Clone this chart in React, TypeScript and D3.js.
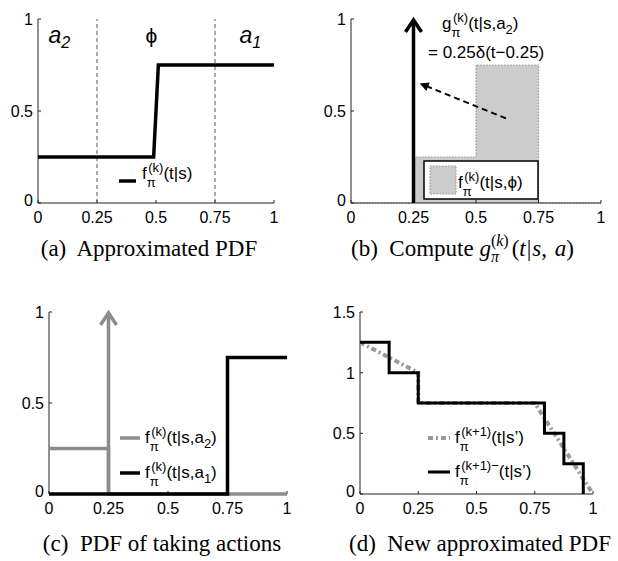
import React from "react";
import * as d3 from "d3";

// shared ticks
const xTicks = [0, 0.25, 0.5, 0.75, 1];
const xTickLabels = ["0", "0.25", "0.5", "0.75", "1"];
const yTicks = [0, 0.5, 1];
const yTickLabels = ["0", "0.5", "1"];
const yTicksD = [0, 0.5, 1, 1.5];
const yTickLabelsD = ["0", "0.5", "1", "1.5"];

// (a) approximated pdf
const pdfT = [0, 0.49, 0.51, 1];
const pdfV = [0.25, 0.25, 0.75, 0.75];
const bounds = [0.25, 0.75];
const regionT = [0.09, 0.48, 0.9];
const regionLabels = ["a", "ϕ", "a"];
const regionSubs = ["2", "", "1"];

// (b) compute g
const phiT = [0, 0.25, 0.25, 0.5, 0.5, 0.75, 0.75, 1];
const phiV = [0, 0, 0.25, 0.25, 0.75, 0.75, 0, 0];
const deltaT = 0.25;
const deltaH = 1;
const moveFrom = [0.62, 0.46];
const moveTo = [0.275, 0.65];

// (c) pdf of taking actions
const a2T = [0, 0.25, 0.25, 1];
const a2V = [0.25, 0.25, 0, 0];
const a1T = [0, 0.75, 0.75, 1];
const a1V = [0, 0, 0.75, 0.75];

// (d) new approximated pdf
const stepT = [0, 0.125, 0.125, 0.25, 0.25, 0.7917, 0.7917, 0.875, 0.875, 0.9583, 0.9583];
const stepV = [1.25, 1.25, 1, 1, 0.75, 0.75, 0.5, 0.5, 0.25, 0.25, 0];
const newT = [0, 0.25, 0.25, 0.75, 1];
const newV = [1.25, 1, 0.75, 0.75, 0];

const SANS = "'Liberation Sans', Arial, sans-serif";
const SERIF = "'Liberation Serif', 'Times New Roman', serif";
const GRAY = "#8c8c8c";
const capStyle = { whiteSpace: "pre" as const };

type Sc = d3.ScaleLinear<number, number>;

function Axes({ x, y, yt, yl }: { x: Sc; y: Sc; yt: number[]; yl: string[] }) {
  const [x0, x1] = x.range();
  const [yb, ytop] = y.range();
  return (
    <g fontFamily={SANS} fontSize={16} fill="#000">
      <line x1={x0} y1={yb} x2={x1} y2={yb} stroke="#222" />
      <line x1={x0} y1={yb} x2={x0} y2={ytop} stroke="#222" />
      {xTicks.map((t, i) => (
        <g key={"x" + i}>
          <line x1={x(t)} x2={x(t)} y1={yb} y2={yb - 3} stroke="#222" />
          <text x={x(t)} y={yb + 20} textAnchor="middle">{xTickLabels[i]}</text>
        </g>
      ))}
      {yt.map((t, i) => (
        <g key={"y" + i}>
          <line x1={x0} x2={x0 + 3} y1={y(t)} y2={y(t)} stroke="#222" />
          <text x={x0 - 5} y={y(t) + (t === 0 ? 3 : 6)} textAnchor="end">{yl[i]}</text>
        </g>
      ))}
    </g>
  );
}

// f^(k)_pi(...) style label
function FLabel({ x, y, base, sup, tail, tailSub, size = 17 }: any) {
  const small = 13;
  return (
    <text x={x} y={y} fontFamily={SANS} fontSize={size} fill="#000">
      {base}
      <tspan dy={8} fontSize={small}>π</tspan>
      <tspan dx={-7.5} dy={-15} fontSize={small}>{sup}</tspan>
      <tspan dy={7}>{tail}</tspan>
      {tailSub ? (
        <>
          <tspan dy={5} fontSize={small}>{tailSub}</tspan>
          <tspan dy={-5}>)</tspan>
        </>
      ) : null}
    </text>
  );
}

function Arrow({ x, yb, yt, color }: any) {
  return (
    <g stroke={color} strokeWidth={3.5} fill="none">
      <line x1={x} x2={x} y1={yb} y2={yt + 2} />
      <polyline points={`${x - 8},${yt + 13} ${x},${yt + 1} ${x + 8},${yt + 13}`} strokeLinejoin="miter" />
    </g>
  );
}

export default function App() {
  const xa = d3.scaleLinear().domain([0, 1]).range([38, 274]);
  const ya = d3.scaleLinear().domain([0, 1]).range([203, 19]);
  const xb = d3.scaleLinear().domain([0, 1]).range([351, 601]);
  const yb = d3.scaleLinear().domain([0, 1]).range([203, 19]);
  const xc = d3.scaleLinear().domain([0, 1]).range([49, 287]);
  const yc = d3.scaleLinear().domain([0, 1]).range([494, 312]);
  const xd = d3.scaleLinear().domain([0, 1]).range([360, 593]);
  const yd = d3.scaleLinear().domain([0, 1.5]).range([494, 312]);

  const path = (xs: Sc, ys: Sc, t: number[], v: number[]) =>
    d3.line<number>().x((d) => xs(d)).y((_, i) => ys(v[i]))(t) || "";

  const phiArea =
    d3
      .area<number>()
      .x((d) => xb(d))
      .y0(yb(0))
      .y1((_, i) => yb(phiV[i]))(phiT) || "";

  // dashed arrow geometry
  const fx = xb(moveFrom[0]), fy = yb(moveFrom[1]);
  const tx = xb(moveTo[0]), ty = yb(moveTo[1]);
  const ang = Math.atan2(ty - fy, tx - fx);
  const hl = 9, hw = 4.5;
  const bx = tx - hl * Math.cos(ang), by = ty - hl * Math.sin(ang);
  const head = `${tx},${ty} ${bx + hw * Math.sin(ang)},${by - hw * Math.cos(ang)} ${bx - hw * Math.sin(ang)},${by + hw * Math.cos(ang)}`;

  return (
    <svg width={618} height={561} style={{ position: "absolute", left: 0, top: 0, background: "#fff" }}>
      {/* (a) */}
      <Axes x={xa} y={ya} yt={yTicks} yl={yTickLabels} />
      {bounds.map((b, i) => (
        <line key={i} x1={xa(b)} x2={xa(b)} y1={ya(0)} y2={ya(1)} stroke="#555" strokeDasharray="4,3" />
      ))}
      <path d={path(xa, ya, pdfT, pdfV)} fill="none" stroke="#000" strokeWidth={3.5} />
      {regionT.map((t, i) => (
        <text
          key={i}
          x={xa(t)}
          y={ya(0.87)}
          textAnchor="middle"
          fontFamily={SANS}
          fontSize={regionSubs[i] ? 23 : 21}
          fontStyle={regionSubs[i] ? "italic" : "normal"}
        >
          {regionLabels[i]}
          {regionSubs[i] ? <tspan dy={5} fontSize={16}>{regionSubs[i]}</tspan> : null}
        </text>
      ))}
      <line x1={119} x2={136} y1={181} y2={181} stroke="#000" strokeWidth={3.5} />
      <FLabel x={142} y={179} base="f" sup="(k)" tail="(t|s)" />
      <text x={149} y={256} textAnchor="middle" fontFamily={SERIF} fontSize={23} style={capStyle}>
        {"(a)  Approximated PDF"}
      </text>

      {/* (b) */}
      <path d={phiArea} fill="#cccccc" stroke="none" />
      <path d={path(xb, yb, phiT, phiV)} fill="none" stroke="#999" strokeWidth={1.2} strokeDasharray="1.5,1.5" />
      <Axes x={xb} y={yb} yt={yTicks} yl={yTickLabels} />
      <Arrow x={xb(deltaT)} yb={yb(0)} yt={yb(deltaH)} color="#000" />
      <line x1={fx} y1={fy} x2={bx} y2={by} stroke="#000" strokeWidth={2} strokeDasharray="6,4" />
      <polygon points={head} fill="#000" />
      <FLabel x={442} y={29} base="g" sup="(k)" tail="(t|s,a" tailSub="2" />
      <text x={428} y={58} fontFamily={SANS} fontSize={17}>= 0.25δ(t−0.25)</text>
      <rect x={424} y={161} width={114} height={38} fill="#fff" stroke="#000" strokeWidth={1.5} />
      <rect x={430} y={166} width={26} height={28} fill="#cccccc" stroke="#999" strokeWidth={1.2} strokeDasharray="1.5,1.5" />
      <FLabel x={458} y={188} base="f" sup="(k)" tail="(t|s,ϕ)" />
      <text x={351} y={256} fontFamily={SERIF} fontSize={23} style={capStyle}>
        <tspan>{"(b)  Compute "}</tspan>
        <tspan fontStyle="italic">g</tspan>
        <tspan dy={6} fontSize={16} fontStyle="italic">π</tspan>
        <tspan dx={-8} dy={-16} fontSize={16}>(<tspan fontStyle="italic">k</tspan>)</tspan>
        <tspan dx={3} dy={10}>(</tspan>
        <tspan fontStyle="italic">t</tspan>
        <tspan dx={1}>|</tspan>
        <tspan dx={1} fontStyle="italic">s</tspan>
        <tspan>, </tspan>
        <tspan dx={2} fontStyle="italic">a</tspan>
        <tspan>)</tspan>
      </text>

      {/* (c) */}
      <Axes x={xc} y={yc} yt={yTicks} yl={yTickLabels} />
      <path d={path(xc, yc, a2T, a2V)} fill="none" stroke={GRAY} strokeWidth={3.5} />
      <Arrow x={xc(deltaT)} yb={yc(0)} yt={yc(deltaH)} color={GRAY} />
      <path d={path(xc, yc, a1T, a1V)} fill="none" stroke="#000" strokeWidth={3.5} />
      <line x1={120} x2={140} y1={438} y2={438} stroke={GRAY} strokeWidth={3.5} />
      <FLabel x={145} y={443} base="f" sup="(k)" tail="(t|s,a" tailSub="2" />
      <line x1={120} x2={140} y1={473} y2={473} stroke="#000" strokeWidth={3.5} />
      <FLabel x={145} y={478} base="f" sup="(k)" tail="(t|s,a" tailSub="1" />
      <text x={162} y={551} textAnchor="middle" fontFamily={SERIF} fontSize={23} style={capStyle}>
        {"(c)  PDF of taking actions"}
      </text>

      {/* (d) */}
      <Axes x={xd} y={yd} yt={yTicksD} yl={yTickLabelsD} />
      <path d={path(xd, yd, newT, newV)} fill="none" stroke="#999" strokeWidth={4} strokeDasharray="5,3,2,3" />
      <path d={path(xd, yd, stepT, stepV)} fill="none" stroke="#000" strokeWidth={3} />
      <line x1={428} x2={450} y1={438} y2={438} stroke="#999" strokeWidth={4} strokeDasharray="5,3,2,3" />
      <FLabel x={455} y={443} base="f" sup="(k+1)" tail="(t|s’)" />
      <line x1={428} x2={450} y1={472} y2={472} stroke="#000" strokeWidth={3} />
      <FLabel x={455} y={477} base="f" sup="(k+1)−" tail="(t|s’)" />
      <text x={480} y={551} textAnchor="middle" fontFamily={SERIF} fontSize={23} style={capStyle}>
        {"(d)  New approximated PDF"}
      </text>
    </svg>
  );
}
